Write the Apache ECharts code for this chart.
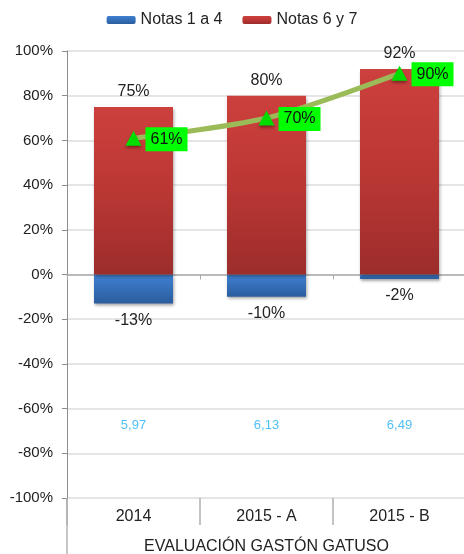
<!DOCTYPE html>
<html><head><meta charset="utf-8">
<script src="https://cdn.jsdelivr.net/npm/echarts@6/dist/echarts.min.js"></script>
<style>html,body{margin:0;padding:0;background:#fff}#c{width:464px;height:554px}</style>
</head><body><div id="c"></div>
<script>
const categories = ['2014', '2015 - A', '2015 - B'];
const notas1a4 = [-13, -10, -2];
const notas6y7 = [75, 80, 92];
const lineValues = [61, 70, 90];
const promedios = ['5,97', '6,13', '6,49'];
const promedioLevel = [-67.5, -67.5, -67.5];
const yTicks = [-100, -80, -60, -40, -20, 0, 20, 40, 60, 80, 100];

const font = 'Liberation Sans, Arial, sans-serif';
const chart = echarts.init(document.getElementById('c'));
chart.setOption({
  animation: false,
  textStyle: { fontFamily: font },
  legend: {
    top: 7, left: 'center', itemWidth: 29, itemHeight: 8, itemGap: 20,
    textStyle: { fontSize: 16, color: '#222', fontFamily: font },
    data: ['Notas 1 a 4', 'Notas 6 y 7']
  },
  grid: { left: 67, top: 51, width: 399, height: 447, containLabel: false, outerBoundsMode: 'none' },
  xAxis: [{
    type: 'category', data: categories,
    axisLine: { onZero: true, lineStyle: { color: '#aaaaaa', width: 1.5 } },
    axisTick: { show: true, length: 5, lineStyle: { color: '#aaaaaa' } },
    axisLabel: { show: false }, splitLine: { show: false }
  }, {
    type: 'category', data: categories, position: 'bottom',
    axisLine: { show: false, onZero: false },
    axisTick: { show: true, length: 27, lineStyle: { color: '#b0b0b0', width: 1.5 } },
    axisLabel: { margin: 11, fontSize: 16, color: '#222', fontFamily: font },
    name: 'EVALUACIÓN GASTÓN GATUSO', nameLocation: 'middle', nameGap: 41,
    nameTextStyle: { fontSize: 16, color: '#222', fontFamily: font }
  }],
  yAxis: {
    type: 'value', min: -100, max: 100, interval: 20,
    axisLine: { show: true, lineStyle: { color: '#8c8c8c' } },
    axisTick: { show: true, length: 5, lineStyle: { color: '#8c8c8c' } },
    axisLabel: { margin: 14, fontSize: 15, color: '#222', fontFamily: font, formatter: v => v + '%' },
    splitLine: { lineStyle: { color: '#dcdcdc', width: 1.5 } }
  },
  graphic: [{
    type: 'line', shape: { x1: 67, y1: 498, x2: 67, y2: 554 },
    style: { stroke: '#8c8c8c', lineWidth: 1 }, silent: true
  }],
  series: [{
    name: 'Notas 1 a 4', type: 'bar', stack: 's', data: notas1a4, barWidth: 79,
    itemStyle: {
      color: new echarts.graphic.LinearGradient(0, 0, 0, 1, [
        { offset: 0, color: '#3f80d2' }, { offset: 1, color: '#2b5d9e' }]),
      shadowColor: 'rgba(0,0,0,0.35)', shadowBlur: 3, shadowOffsetX: 1, shadowOffsetY: 2
    },
    label: { show: true, position: 'bottom', distance: 9, fontSize: 16, color: '#222', formatter: p => p.value + '%' }
  }, {
    name: 'Notas 6 y 7', type: 'bar', stack: 's', data: notas6y7, barWidth: 79,
    itemStyle: {
      color: new echarts.graphic.LinearGradient(0, 0, 0, 1, [
        { offset: 0, color: '#cc403d' }, { offset: 0.5, color: '#bb3734' }, { offset: 1, color: '#9c2d2b' }]),
      shadowColor: 'rgba(0,0,0,0.35)', shadowBlur: 3, shadowOffsetX: 1, shadowOffsetY: 2
    },
    label: { show: true, position: 'top', distance: 7, fontSize: 16, color: '#222', formatter: p => p.value + '%' }
  }, {
    name: 'Promedio', type: 'line', data: lineValues, smooth: 0.3,
    lineStyle: { color: '#9bbb59', width: 5 },
    symbol: 'triangle', symbolSize: [16, 15],
    itemStyle: { color: '#00dd00', shadowColor: 'rgba(0,0,0,0.4)', shadowBlur: 3, shadowOffsetY: 2 },
    label: {
      show: true, position: 'right', distance: 4, offset: [0, 1], fontSize: 16, color: '#111',
      backgroundColor: '#00ff00', padding: [4, 5, 4, 5], formatter: p => p.value + '%'
    },
    z: 5
  }, {
    name: 'Promedios', type: 'scatter', data: promedioLevel, symbolSize: 0,
    label: {
      show: true, position: 'inside', fontSize: 13, color: '#22b0ef',
      formatter: p => promedios[p.dataIndex]
    },
    z: 6
  }]
});
</script></body></html>
